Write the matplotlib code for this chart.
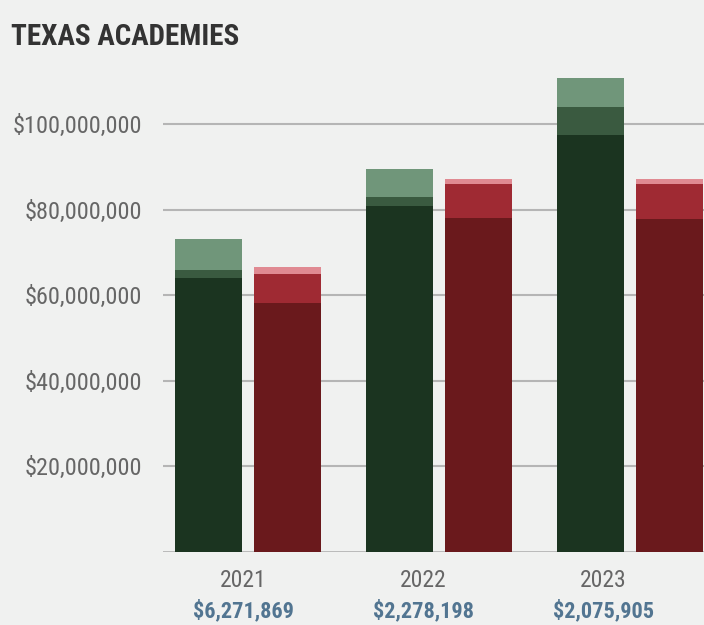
import matplotlib
matplotlib.use('Agg')
import matplotlib.pyplot as plt
import matplotlib.transforms as mtransforms
from matplotlib.ticker import FuncFormatter
import numpy as np

'''Data'''
years = ['2021', '2022', '2023']
gap_labels = ['$6,271,869', '$2,278,198', '$2,075,905']

# segment heights in $M, bottom to top
green_base = [64.0, 80.8, 97.4]
green_mid = [1.9, 2.1, 6.6]
green_top = [7.2, 6.6, 6.7]

red_base = [58.2, 78.0, 77.8]
red_mid = [6.8, 8.0, 8.2]
red_top = [1.6, 1.1, 1.1]

bg = '#f0f1f0'
greens = ['#1b3420', '#3a5a40', '#70967a']
reds = ['#6a191c', '#9f2a33', '#e08a92']

plt.rcParams['font.family'] = ['Roboto Condensed', 'Liberation Sans Narrow',
                               'Barlow Semi Condensed', 'Roboto', 'DejaVu Sans']

fig = plt.figure(figsize=(7.04, 6.25), dpi=100, facecolor=bg)
ax = fig.add_axes([163 / 704, 73 / 625, 541 / 704, 0.8218])
ax.set_facecolor(bg)

x = np.arange(len(years))
w = 0.351
off = 0.207

def stack(xpos, segs, cols):
    bottom = np.zeros(len(xpos))
    for s, c in zip(segs, cols):
        s = np.array(s) * 1e6
        ax.bar(xpos, s, w, bottom=bottom, color=c, zorder=3, linewidth=0)
        bottom = bottom + s

stack(x - off, [green_base, green_mid, green_top], greens)
stack(x + off, [red_base, red_mid, red_top], reds)

ax.set_xlim(-0.445, 2.387)
ax.set_ylim(0, 120e6)
ax.set_yticks([20e6, 40e6, 60e6, 80e6, 100e6])
ax.yaxis.set_major_formatter(FuncFormatter(lambda v, p: '${:,.0f}'.format(v)))
ax.grid(axis='y', color='#b5b5b5', linewidth=1.5, zorder=1)
ax.axhline(0, color='#b5b5b5', linewidth=2, zorder=2)

for sp in ax.spines.values():
    sp.set_visible(False)
ax.tick_params(axis='y', length=0, pad=15, labelsize=17.5, labelcolor='#666666')

label_x = x * 0.9425 - 0.026
ax.set_xticks(label_x)
ax.set_xticklabels(years)
ax.tick_params(axis='x', length=0, pad=12, labelsize=17, labelcolor='#666666')

trans = mtransforms.blended_transform_factory(ax.transData, fig.transFigure)
for lx, t in zip(label_x, gap_labels):
    ax.text(lx, 1 - 617 / 625, t, transform=trans, ha='center', va='baseline',
            fontsize=16, fontweight='bold', color='#527591', clip_on=False)

fig.text(11 / 704, 1 - 45 / 625, 'TEXAS ACADEMIES', fontsize=21, fontweight='bold',
         color='#333333', ha='left', va='baseline')

fig.savefig('out.png', dpi=100, facecolor=bg)
